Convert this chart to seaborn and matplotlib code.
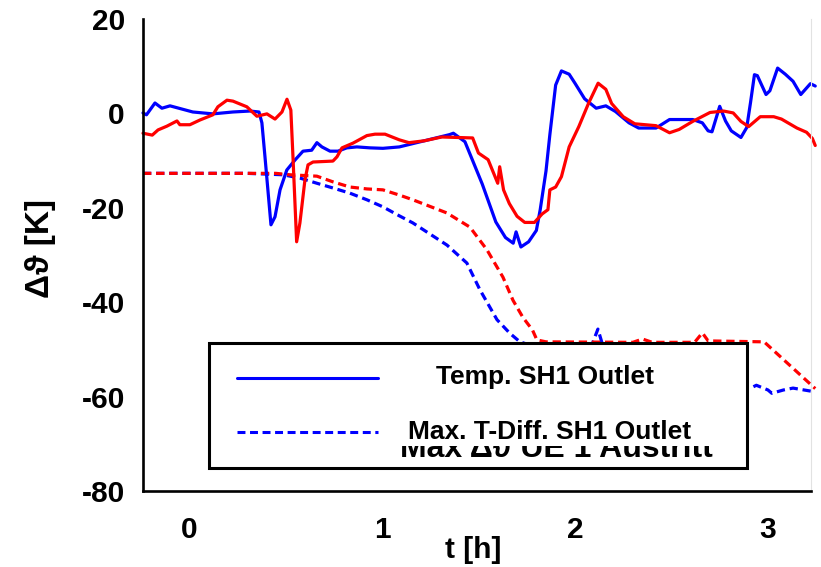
import matplotlib
matplotlib.use("Agg")
import matplotlib.pyplot as plt
from matplotlib.patches import Rectangle
from matplotlib.lines import Line2D
import seaborn as sns
import pandas as pd

# ---------------- data ----------------
blue_solid_t = [-0.238, -0.22, -0.176, -0.14, -0.098, 0.02, 0.124, 0.228, 0.316, 0.363, 0.378,
                0.394, 0.425, 0.446, 0.472, 0.507, 0.549, 0.591, 0.636, 0.663, 0.689, 0.731,
                0.772, 0.818, 0.87, 0.938, 1.005, 1.09, 1.21, 1.35, 1.37, 1.43, 1.47, 1.52,
                1.59, 1.64, 1.68, 1.695, 1.72, 1.76, 1.80, 1.82, 1.85, 1.87, 1.90, 1.93, 1.97,
                2.0, 2.05, 2.11, 2.16, 2.21, 2.28, 2.33, 2.42, 2.49, 2.61, 2.66, 2.69, 2.71,
                2.75, 2.78, 2.81, 2.86, 2.89, 2.91, 2.93, 2.945, 2.99, 3.01, 3.05, 3.09, 3.13,
                3.17, 3.22, 3.245]
blue_solid_v = [0.1, -0.3, 2.2, 1.1, 1.6, 0.3, -0.1, 0.3, 0.5, 0.3, -2.0,
                -9.2, -23.6, -21.9, -16.2, -12.0, -9.9, -8.0, -7.8, -6.2, -7.1, -8.0,
                -8.0, -7.3, -7.1, -7.3, -7.4, -7.1, -5.9, -4.5, -4.2, -6.0, -10.0, -15.0,
                -23.0, -26.3, -27.5, -25.1, -28.3, -27.2, -24.8, -20.4, -12.2, -4.5, 6.0, 9.0, 8.3,
                6.4, 3.1, 1.1, 1.6, 0.4, -2.0, -3.1, -3.1, -1.3, -1.3, -2.0, -3.7, -3.9,
                1.5, -1.6, -3.7, -5.1, -3.0, 2.4, 8.2, 8.0, 4.0, 4.8, 9.6, 8.3, 6.8,
                4.0, 6.3, 5.8]

red_solid_t = [-0.238, -0.19, -0.16, -0.114, -0.062, -0.047, 0.005, 0.057, 0.124, 0.15, 0.197,
               0.228, 0.30, 0.352, 0.404, 0.446, 0.482, 0.508, 0.528, 0.539, 0.558, 0.575,
               0.601, 0.617, 0.643, 0.746, 0.767, 0.793, 0.85, 0.922, 0.964, 1.016, 1.09,
               1.14, 1.22, 1.31, 1.47, 1.50, 1.55, 1.60, 1.61, 1.63, 1.66, 1.70, 1.74, 1.79,
               1.83, 1.86, 1.87, 1.90, 1.93, 1.97, 2.02, 2.07, 2.12, 2.16, 2.19, 2.25, 2.31,
               2.42, 2.49, 2.54, 2.61, 2.70, 2.77, 2.82, 2.86, 2.90, 2.96, 3.03, 3.07, 3.15,
               3.20, 3.23, 3.245]
red_solid_v = [-4.2, -4.6, -3.5, -2.7, -1.6, -2.4, -2.4, -1.4, -0.3, 1.4, 2.8,
               2.6, 1.4, -0.6, -0.1, -1.2, 0.3, 3.0, 0.7, -9.2, -27.2, -23.2,
               -14.1, -10.9, -10.3, -10.1, -9.2, -7.3, -6.3, -4.7, -4.4, -4.4, -5.6,
               -6.2, -5.8, -5.0, -5.2, -8.4, -9.8, -14.8, -11.3, -16.2, -19.1, -21.8, -23.1, -23.1,
               -21.3, -20.4, -16.2, -15.6, -13.4, -7.1, -2.8, 2.1, 6.4, 5.1, 2.1, -0.7, -2.2,
               -2.6, -4.1, -3.4, -1.7, 0.2, 0.5, 0.1, -1.7, -2.8, -0.7, -0.7, -1.2, -3.1,
               -4.0, -5.3, -6.8]

blue_dash_t = [-0.238, 0.30, 0.487, 0.575, 0.663, 0.746, 0.834, 0.922, 1.005, 1.09, 1.16,
               1.337, 1.44, 1.508, 1.596, 1.663, 1.715, 1.76, 2.0, 2.09, 2.119, 2.14, 2.30,
               2.45, 2.6, 2.8, 2.91, 2.94, 3.0, 3.02, 3.08, 3.13, 3.245]
blue_dash_v = [-12.7, -12.7, -13.0, -13.7, -14.8, -15.8, -16.9, -18.3, -19.8, -21.7, -23.2,
               -27.9, -31.7, -37.4, -43.7, -46.6, -48.4, -49.0, -49.2, -48.8, -45.7, -48.6, -49.2,
               -52.0, -56.0, -58.0, -58.2, -57.6, -58.6, -59.3, -58.6, -58.2, -59.0]

red_dash_t = [-0.238, 0.45, 0.523, 0.663, 0.746, 0.834, 0.922, 1.005, 1.09, 1.16, 1.337,
              1.456, 1.544, 1.627, 1.679, 1.73, 1.78, 1.803, 1.85, 2.30, 2.35, 2.40, 2.62,
              2.66, 2.69, 2.98, 3.245]
red_dash_v = [-12.7, -12.7, -13.0, -13.3, -14.5, -15.6, -16.0, -16.2, -17.3, -18.3, -21.1,
              -24.1, -28.9, -34.7, -39.6, -43.2, -45.9, -48.0, -48.4, -48.5, -47.8, -48.5, -48.5,
              -46.5, -48.2, -48.4, -58.3]

x_ticks = [0, 1, 2, 3]
y_ticks = [-80, -60, -40, -20, 0, 20]
legend_labels = ["Temp. SH1 Outlet", "Max. T-Diff. SH1 Outlet"]
hidden_label = "Max \u0394\u03d1 \u00dcE 1 Austritt"
x_label = "t [h]"
y_label = "\u0394\u03d1 [K]"

# ---------------- style ----------------
sns.set_theme(style="white")
plt.rcParams["font.family"] = ["Liberation Sans", "DejaVu Sans"]
plt.rcParams["font.weight"] = "bold"
for key in ["text.color", "axes.labelcolor", "xtick.color", "ytick.color"]:
    plt.rcParams[key] = "black"

BLUE = "#0000ff"
RED = "#ff0000"
DASH = (0, (2.6, 1.5))

fig = plt.figure(figsize=(8.21, 5.67), dpi=100)
ax = fig.add_axes([143 / 821, 1 - 491 / 567, (811 - 143) / 821, (491 - 19) / 567])

series = [
    (blue_dash_t, blue_dash_v, BLUE, DASH),
    (red_dash_t, red_dash_v, RED, DASH),
    (blue_solid_t, blue_solid_v, BLUE, "-"),
    (red_solid_t, red_solid_v, RED, "-"),
]
for t, v, c, ls in series:
    df = pd.DataFrame({"t": t, "v": v})
    sns.lineplot(data=df, x="t", y="v", ax=ax, color=c, linestyle=ls, lw=2.3,
                 estimator=None, sort=False, clip_on=False, zorder=2)

ax.set_xlim(-0.238, 3.223)
ax.set_ylim(-80, 20)
ax.set_xticks(x_ticks)
ax.set_yticks(y_ticks)
ax.set_xticklabels([str(v) for v in x_ticks], fontsize=21.5, fontweight="bold", color="black")
ax.set_yticklabels([str(v) for v in y_ticks], fontsize=21.5, fontweight="bold", color="black")
ax.tick_params(axis="x", direction="in", length=5, width=1.5, color="black", pad=18)
ax.tick_params(axis="y", direction="in", length=5, width=1.5, color="black", pad=13)

for s in ["left", "bottom"]:
    ax.spines[s].set_color("black")
    ax.spines[s].set_linewidth(1.9)
ax.spines["top"].set_visible(False)
ax.spines["right"].set_color("#e2e2e2")
ax.spines["right"].set_linewidth(0.8)

ax.set_xlabel(x_label, fontsize=21.5, fontweight="bold", va="top", color="black")
ax.xaxis.set_label_coords((473 - 143) / 668, (491 - 536) / 472)
ax.set_ylabel(y_label, fontsize=24, fontweight="bold", color="black")
ax.yaxis.set_label_coords((56 - 143) / 668, (491 - 248) / 472)


def ax_x(px):
    return (px - 143) / 668


def ax_y(py):
    return (491 - py) / 472


# ---------------- legend (custom box) ----------------
box = Rectangle((ax_x(209), ax_y(468)), ax_x(747) - ax_x(209), ax_y(343) - ax_y(468),
                transform=ax.transAxes, facecolor="white", edgecolor="black", lw=2.2,
                zorder=10, clip_on=False)
ax.add_patch(box)

ax.text(ax_x(556), ax_y(457), hidden_label, transform=ax.transAxes, ha="center",
        va="baseline", fontsize=23, fontweight="bold", color="black", zorder=11)
cover = Rectangle((ax_x(385), ax_y(446)), ax_x(730) - ax_x(385), ax_y(397) - ax_y(446),
                  transform=ax.transAxes, facecolor="white", edgecolor="none", zorder=12)
ax.add_patch(cover)

ax.add_line(Line2D([ax_x(237), ax_x(378)], [ax_y(378), ax_y(378)], transform=ax.transAxes,
                   color=BLUE, lw=2.2, zorder=13))
ax.add_line(Line2D([ax_x(237), ax_x(378)], [ax_y(432), ax_y(432)], transform=ax.transAxes,
                   color=BLUE, lw=2.2, linestyle=DASH, zorder=13))
ax.text(ax_x(545), ax_y(377), legend_labels[0], transform=ax.transAxes, ha="center",
        va="center", fontsize=19, fontweight="bold", color="black", zorder=13)
ax.text(ax_x(550), ax_y(432), legend_labels[1], transform=ax.transAxes, ha="center",
        va="center", fontsize=19, fontweight="bold", color="black", zorder=13)

fig.savefig("out.png", dpi=100)
